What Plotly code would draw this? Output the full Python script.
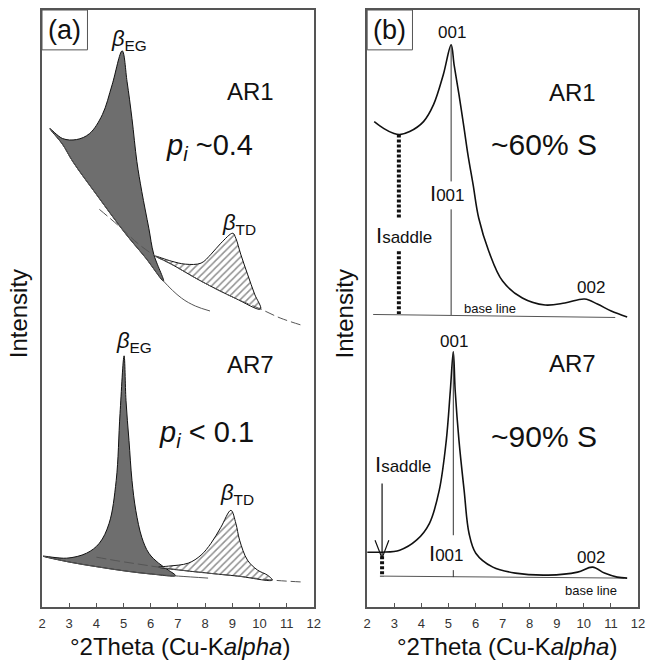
import plotly.graph_objects as go

# ---------------- data ----------------
tick_vals = list(range(2, 13))

# Panel (a), sample AR1
a1_base_x = [2.29, 2.76, 3.13, 4.0, 5.09, 5.82, 6.47, 7.13, 7.64, 8.18]
a1_base_y = [480, 464, 447, 414, 374, 350, 327, 310, 302, 297]
a1_eg_x = [2.29, 2.76, 3.27, 3.75, 4.22, 4.58, 4.95, 5.13, 5.31, 5.49, 5.67, 5.93, 6.11, 6.47]
a1_eg_y = [480, 470, 469, 475, 494, 524, 558, 527, 490, 447, 417, 380, 354, 327]
a1_dash_x = [4.11, 4.84, 5.56, 6.18, 6.76, 7.85, 9.09, 10.04, 10.76, 11.64]
a1_dash_y = [399, 382, 364, 352, 344, 327, 310, 299, 290, 282]
a1_td_x = [6.18, 6.76, 7.27, 7.85, 8.22, 8.58, 9.02, 9.13, 9.31, 9.56, 9.82, 10.04]
a1_td_y = [352, 347, 344, 345, 354, 365, 375, 370, 354, 334, 314, 299]

# Panel (a), sample AR7
a7_base_x = [2.04, 3.02, 4.11, 5.09, 6.04, 7.02, 8.11]
a7_base_y = [51, 45, 40, 36, 33, 31, 29]
a7_eg_x = [2.04, 2.91, 3.64, 4.11, 4.47, 4.73, 4.87, 5.02, 5.09, 5.2, 5.31, 5.45, 5.67, 5.93, 6.29, 6.65, 6.91]
a7_eg_y = [51, 49, 54, 64, 84, 127, 194, 252, 207, 167, 127, 97, 70, 54, 44, 37, 31.5]
a7_dash_x = [4.0, 4.84, 5.56, 6.29, 7.75, 9.2, 10.47, 11.64]
a7_dash_y = [50, 46, 43, 40, 35, 31, 27, 25]
a7_td_x = [6.29, 6.65, 7.38, 7.85, 8.22, 8.58, 8.95, 9.13, 9.27, 9.56, 9.93, 10.29, 10.47]
a7_td_y = [40, 41, 44, 52, 64, 80, 97, 84, 67, 47, 37, 32, 27]

# Panel (b), sample AR1
b1_x = [2.26, 2.62, 2.99, 3.2, 3.57, 4.08, 4.45, 4.81, 5.1, 5.21, 5.39, 5.58, 5.72,
        5.91, 6.12, 6.49, 7.0, 7.73, 8.57, 9.3, 10.03, 10.5, 11.01, 11.6]
b1_y = [487, 480, 475, 474, 477, 487, 504, 534, 564, 544, 514, 480, 454,
        424, 390, 357, 327, 310, 303, 305, 309, 304, 297, 291]
b1_base_x = [2.22, 11.16]
b1_base_y = [293.5, 290.5]
b1_saddle_x = 3.17
b1_saddle_segs = [(474, 389), (357, 294)]
b1_peak_x = 5.1
b1_peak_segs = [(564, 427), (399, 293)]

# Panel (b), sample AR7
b7_x = [2.0, 2.55, 3.2, 3.82, 4.3, 4.66, 4.92, 5.07, 5.18, 5.25, 5.39, 5.58, 5.76,
        6.01, 6.64, 7.47, 8.68, 9.77, 10.32, 10.76, 11.23, 11.6]
b7_y = [55, 55, 57, 67, 84, 117, 167, 217, 256, 217, 167, 117, 74,
        54, 40, 34, 32, 35, 40, 34, 30, 29]
b7_base_x = [2.47, 11.49]
b7_base_y = [31, 29]
b7_saddle_x = 2.55
b7_saddle_segs = [(51, 30.5)]
b7_peak_x = 5.18
b7_peak_segs = [(256, 72), (37, 30)]
b7_arrow_x = [2.55, 2.55]
b7_arrow_y = [124, 49]
b7_head_x = [2.29, 2.55, 2.80]
b7_head_y = [67, 49, 67]

FONT = "Liberation Sans, Arial, sans-serif"
BLACK = "#111111"
GRAY = "#555555"

fig = go.Figure()


def line(x, y, ax, width=1.5, color=BLACK, dash="solid", shape="spline"):
    fig.add_trace(go.Scatter(
        x=x, y=y, mode="lines", xaxis="x" + ax, yaxis="y" + ax,
        line=dict(color=color, width=width, dash=dash, shape=shape, smoothing=1),
        hoverinfo="skip", showlegend=False))


def polygon(upper_x, upper_y, low_x, low_y, ax, fill, pattern=None):
    x0, x1 = upper_x[0], upper_x[-1]
    lx = [x for x in reversed(low_x) if x0 < x < x1]
    ly = [y for x, y in zip(reversed(low_x), reversed(low_y)) if x0 < x < x1]
    px = list(upper_x) + lx + [upper_x[0]]
    py = list(upper_y) + ly + [upper_y[0]]
    kw = dict(fillcolor=fill)
    if pattern:
        kw["fillpattern"] = pattern
    fig.add_trace(go.Scatter(
        x=px, y=py, mode="lines", fill="toself", xaxis="x" + ax, yaxis="y" + ax,
        line=dict(color=BLACK, width=1, shape="spline", smoothing=1),
        hoverinfo="skip", showlegend=False, **kw))


hatch = dict(shape="/", size=5, solidity=0.3, fgcolor="#222222", bgcolor="white")

# ---- panel (a)
polygon(a1_eg_x, a1_eg_y, a1_base_x, a1_base_y, "", "#6e6e6e")
line(a1_base_x, a1_base_y, "", width=1, color=GRAY)
polygon(a1_td_x, a1_td_y, a1_dash_x, a1_dash_y, "", "white", hatch)
line(a1_dash_x, a1_dash_y, "", width=1, color=GRAY, dash="10px,4px")

polygon(a7_eg_x, a7_eg_y, a7_base_x, a7_base_y, "", "#6e6e6e")
line(a7_base_x, a7_base_y, "", width=1, color=GRAY)
polygon(a7_td_x, a7_td_y, a7_dash_x, a7_dash_y, "", "white", hatch)
line(a7_dash_x, a7_dash_y, "", width=1, color=GRAY, dash="10px,4px")

# ---- panel (b)
line(b1_base_x, b1_base_y, "2", width=1, color=GRAY, shape="linear")
line(b1_x, b1_y, "2", width=1.6)
for y0, y1 in b1_saddle_segs:
    line([b1_saddle_x, b1_saddle_x], [y0, y1], "2", width=4, dash="3px,2px", shape="linear")
for y0, y1 in b1_peak_segs:
    line([b1_peak_x, b1_peak_x], [y0, y1], "2", width=1, color="#333333", shape="linear")

line(b7_base_x, b7_base_y, "2", width=1, color=GRAY, shape="linear")
line(b7_x, b7_y, "2", width=1.6)
for y0, y1 in b7_saddle_segs:
    line([b7_saddle_x, b7_saddle_x], [y0, y1], "2", width=4, dash="3px,2px", shape="linear")
for y0, y1 in b7_peak_segs:
    line([b7_peak_x, b7_peak_x], [y0, y1], "2", width=1, color="#333333", shape="linear")
line(b7_arrow_x, b7_arrow_y, "2", width=1.2, shape="linear")
line(b7_head_x, b7_head_y, "2", width=1.2, shape="linear")

# ---------------- annotations ----------------
ann = []


def text(x, y, s, ax, size, xanchor="center", yanchor="middle"):
    ann.append(dict(x=x, y=y, xref="x" + ax, yref="y" + ax, text=s, showarrow=False,
                    xanchor=xanchor, yanchor=yanchor,
                    font=dict(family=FONT, size=size, color=BLACK)))


# panel (a)
text(2.84, 579, "(a)", "", 27)
text(5.2, 569, "<i>β</i><sub>EG</sub>", "", 22)
text(9.67, 517, "AR1", "", 24)
text(8.18, 462, "<i>p<sub>i</sub></i> ~0.4", "", 29)
text(9.24, 384, "<i>β</i><sub>TD</sub>", "", 22)
text(5.38, 266, "<i>β</i><sub>EG</sub>", "", 22)
text(9.67, 243, "AR7", "", 24)
text(8.04, 174, "<i>p<sub>i</sub></i> &lt; 0.1", "", 29)
text(9.16, 113, "<i>β</i><sub>TD</sub>", "", 22)

# panel (b)
I001 = "I<span style='font-size:17px'>001</span>"
ISAD = "I<span style='font-size:17px'>saddle</span>"
text(2.84, 579, "(b)", "2", 27)
text(5.14, 576, "001", "2", 17)
text(9.59, 516, "AR1", "2", 24)
text(8.53, 464, "~60% S", "2", 30)
text(4.96, 415, I001, "2", 22)
text(3.35, 373, ISAD, "2", 22)
text(10.25, 321, "002", "2", 17)
text(6.53, 300, "base line", "2", 13)
text(5.21, 266, "001", "2", 17)
text(9.59, 244, "AR7", "2", 24)
text(8.53, 171, "~90% S", "2", 30)
text(3.31, 143, ISAD, "2", 22)
text(4.92, 54, I001, "2", 22)
text(10.25, 50, "002", "2", 17)
text(10.28, 17, "base line", "2", 13)

# axis titles
for xp in (-0.0381, 0.5091):
    ann.append(dict(x=xp, y=0.4908, xref="paper", yref="paper", text="Intensity",
                    textangle=-90, showarrow=False, xanchor="center", yanchor="middle",
                    font=dict(family=FONT, size=24, color=BLACK)))
for xp in (0.2322, 0.7794):
    ann.append(dict(x=xp, y=-0.0668, xref="paper", yref="paper",
                    text="°2Theta (Cu-K<i>alpha</i>)", showarrow=False,
                    xanchor="center", yanchor="middle",
                    font=dict(family=FONT, size=24, color=BLACK)))

shapes = []
for ax in ("x", "x2"):
    shapes.append(dict(type="rect", xref=ax + " domain", yref="y" + ax[1:] + " domain",
                       x0=0, x1=46 / 275, y0=1 - 40 / 599, y1=1,
                       line=dict(color=GRAY, width=1), fillcolor="rgba(0,0,0,0)"))

xcommon = dict(range=[2, 12], tickmode="array", tickvals=tick_vals, ticks="inside",
               ticklen=4, tickcolor=GRAY, showline=True, mirror=True, linecolor=GRAY,
               linewidth=1.5, showgrid=False, zeroline=False,
               tickfont=dict(family=FONT, size=13, color="#333333"), ticklabelstandoff=4)
ycommon = dict(range=[0, 599], showticklabels=False, ticks="", showline=True, mirror=True,
               linecolor=GRAY, linewidth=1.5, showgrid=False, zeroline=False)

fig.update_layout(
    width=653, height=661, margin=dict(l=42, r=8, t=8, b=54),
    plot_bgcolor="white", paper_bgcolor="white", showlegend=False,
    font=dict(family=FONT, color=BLACK),
    xaxis=dict(domain=[0, 0.4561], anchor="y", **xcommon),
    yaxis=dict(domain=[0, 1], anchor="x", **ycommon),
    xaxis2=dict(domain=[0.5456, 1], anchor="y2", **xcommon),
    yaxis2=dict(domain=[0, 1], anchor="x2", **ycommon),
    annotations=ann, shapes=shapes,
)

fig.write_html("out.html")
